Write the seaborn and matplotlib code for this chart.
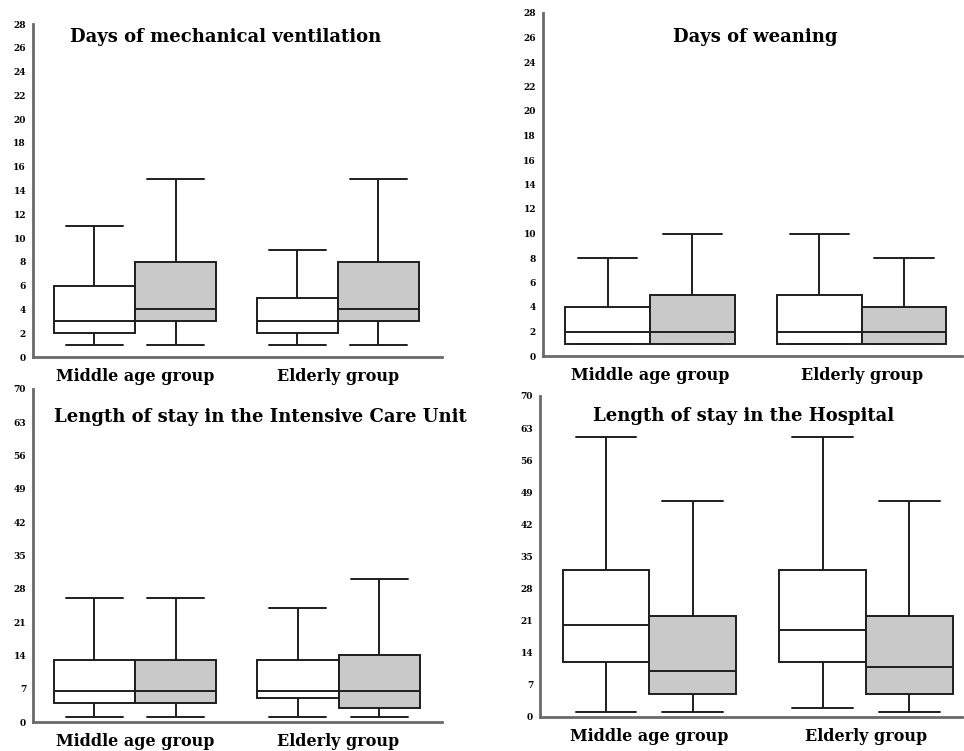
import numpy as np
import pandas as pd
import matplotlib
matplotlib.use("Agg")
import matplotlib.pyplot as plt
import seaborn as sns

# ---------------- data (five-number summaries: min, Q1, median, Q3, max) ----
groups = ["Middle age group", "Elderly group"]
series = ["white", "shaded"]

titles = ["Days of mechanical ventilation", "Days of weaning",
          "Length of stay in the Intensive Care Unit", "Length of stay in the Hospital"]

mv_white = [[1, 2, 3, 6, 11], [1, 2, 3, 5, 9]]
mv_shaded = [[1, 3, 4, 8, 15], [1, 3, 4, 8, 15]]

wean_white = [[1, 1, 2, 4, 8], [1, 1, 2, 5, 10]]
wean_shaded = [[1, 1, 2, 5, 10], [1, 1, 2, 4, 8]]

icu_white = [[1, 4, 6.5, 13, 26], [1, 5, 6.5, 13, 24]]
icu_shaded = [[1, 4, 6.5, 13, 26], [1, 3, 6.5, 14, 30]]

hosp_white = [[1, 12, 20, 32, 61], [2, 12, 19, 32, 61]]
hosp_shaded = [[1, 5, 10, 22, 47], [1, 5, 11, 22, 47]]

yticks_days = [0, 2, 4, 6, 8, 10, 12, 14, 16, 18, 20, 22, 24, 26, 28]
yticks_stay = [0, 7, 14, 21, 28, 35, 42, 49, 56, 63, 70]


def make_frame(white, shaded):
    rows = []
    for gi, g in enumerate(groups):
        for s, vals in ((series[0], white[gi]), (series[1], shaded[gi])):
            for v in vals:
                rows.append({"group": g, "series": s, "value": v})
    return pd.DataFrame(rows)


panels = [
    (make_frame(mv_white, mv_shaded), yticks_days),
    (make_frame(wean_white, wean_shaded), yticks_days),
    (make_frame(icu_white, icu_shaded), yticks_stay),
    (make_frame(hosp_white, hosp_shaded), yticks_stay),
]

# ---------------- layout (pixel geometry) ----------------------------------
W, H = 964, 751
# left px, right px, top px (ymax), bottom px (0), center0 px, center1 px
geom = [
    (33, 442, 24, 357, 135.0, 337.7),
    (543, 962, 13, 356, 650.0, 861.7),
    (33, 442, 389, 722, 135.0, 338.5),
    (540, 962, 396, 717, 649.3, 866.0),
]
title_pos = [(0.47, 0.962), (0.506, 0.93), (0.555, 0.916), (0.483, 0.938)]

sns.set_theme(style="white")
plt.rcParams["font.family"] = ["DejaVu Serif"]
plt.rcParams["text.color"] = "black"
plt.rcParams["xtick.color"] = "black"
plt.rcParams["ytick.color"] = "black"

fig = plt.figure(figsize=(W / 100, H / 100), dpi=100)
fig.patch.set_facecolor("white")

palette = {"white": "white", "shaded": "#c9c9c9"}

for i, ((df, yt), (lpx, rpx, tpx, bpx, c0, c1)) in enumerate(zip(panels, geom)):
    ax = fig.add_axes([lpx / W, 1 - bpx / H, (rpx - lpx) / W, (bpx - tpx) / H])
    sns.boxplot(data=df, x="group", y="value", hue="series", order=groups,
                hue_order=series, palette=palette, whis=(0, 100), showfliers=False,
                width=0.8, gap=0, dodge=True, linecolor="#1e1e1e", linewidth=1.4,
                legend=False, ax=ax)
    # widen whisker caps
    for ln in ax.lines:
        xd = np.asarray(ln.get_xdata(), dtype=float)
        yd = np.asarray(ln.get_ydata(), dtype=float)
        if len(xd) == 2 and yd[0] == yd[1] and abs(xd[1] - xd[0]) < 0.35:
            m = xd.mean()
            ln.set_xdata([m - 0.14, m + 0.14])
    ppu = c1 - c0
    ax.set_xlim(-(c0 - lpx) / ppu, 1 + (rpx - c1) / ppu)
    ax.set_ylim(0, yt[-1])
    ax.set_yticks(yt)
    ax.set_yticklabels([str(v) for v in yt], fontsize=6.5, fontweight="bold",
                       color="black")
    ax.set_xticks([0, 1])
    ax.set_xticklabels(groups, fontsize=11.5, fontweight="bold", color="black")
    ax.set_xlabel("")
    ax.set_ylabel("")
    for sp in ("top", "right"):
        ax.spines[sp].set_visible(False)
    for sp in ("left", "bottom"):
        ax.spines[sp].set_color("#6a6a6a")
        ax.spines[sp].set_linewidth(2)
    ax.tick_params(axis="y", direction="out", length=3, width=2.5, color="black", pad=2)
    ax.tick_params(axis="x", length=0, pad=8)
    ax.set_facecolor("white")
    tx, ty = title_pos[i]
    ax.text(tx, ty, titles[i], transform=ax.transAxes, ha="center", va="center",
            fontsize=13, fontweight="bold", color="black")

fig.savefig("out.png", dpi=100, facecolor="white")
